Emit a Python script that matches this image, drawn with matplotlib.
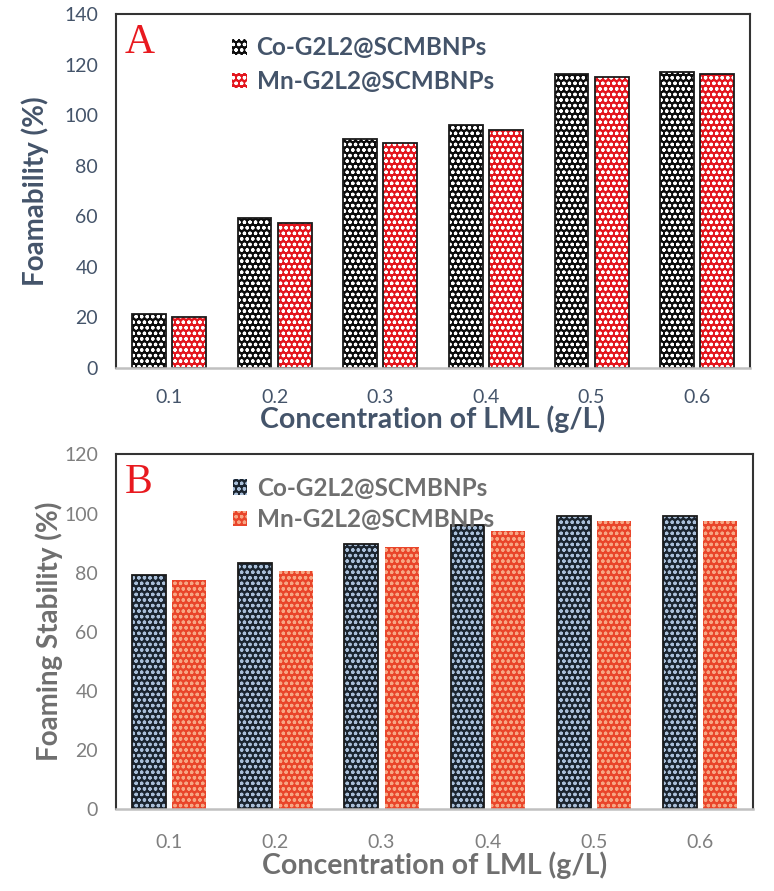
import matplotlib

matplotlib.use("Agg")
import matplotlib.pyplot as plt
import numpy as np
from matplotlib.patches import Patch

plt.rcParams["font.family"] = ["Lato", "DejaVu Sans"]
plt.rcParams["hatch.linewidth"] = 0.9

# data
conc_labels = ["0.1", "0.2", "0.3", "0.4", "0.5", "0.6"]
series_names = ["Co-G2L2@SCMBNPs", "Mn-G2L2@SCMBNPs"]
foamability_co = [21.3, 59.3, 90.5, 96.0, 116.3, 117.2]
foamability_mn = [20.3, 57.5, 89.0, 94.0, 115.0, 116.3]
stability_co = [79.3, 83.2, 89.8, 96.2, 99.0, 99.0]
stability_mn = [77.4, 80.4, 88.6, 94.1, 97.3, 97.3]

x = np.arange(len(conc_labels))
W = 0.32
OFF = 0.19
HATCH = "ooo"

fig = plt.figure(figsize=(7.74, 8.91), dpi=100)
axA = fig.add_axes([0.150, 0.587, 0.819, 0.397])
axB = fig.add_axes([0.150, 0.092, 0.823, 0.398])


def hatched_bars(ax, xs, vals, face, dots, outline):
    ax.bar(xs, vals, W, color=face, edgecolor=dots, hatch=HATCH, linewidth=0)
    if outline:
        ax.bar(xs, vals, W, fill=False, edgecolor="#1a1a1a", linewidth=1.3)


def style_axes(ax, ymax, tick_col, lab_col, ylabel, letter, handles, leg_col, spacing):
    ax.set_xlim(-0.5, len(conc_labels) - 0.5)
    ax.set_ylim(0, ymax)
    ax.set_yticks(np.arange(0, ymax + 1, 20))
    ax.set_xticks(x)
    ax.set_xticklabels(conc_labels)
    ax.tick_params(length=0, labelsize=14, colors=tick_col, pad=13)
    ax.tick_params(axis="x", pad=15)
    for s in ["left", "top", "right"]:
        ax.spines[s].set_color("#333333")
        ax.spines[s].set_linewidth(1.5)
    ax.spines["bottom"].set_color("#c0c0c0")
    ax.spines["bottom"].set_linewidth(1.8)
    ax.set_xlabel("Concentration of LML (g/L)", fontsize=20.5, fontweight="bold",
                  color=lab_col, labelpad=0)
    ax.set_ylabel(ylabel, fontsize=20, fontweight="bold", color=lab_col)
    ax.text(0.014, 0.975, letter, transform=ax.transAxes, va="top", ha="left",
            fontsize=30, color="#e8191f", family="Liberation Serif")
    leg = ax.legend(handles=handles, loc="upper left", bbox_to_anchor=(0.168, 0.965),
                    frameon=False, fontsize=17.5, handlelength=0.6, handleheight=0.6,
                    handletextpad=0.4, labelspacing=spacing, borderaxespad=0)
    for t in leg.get_texts():
        t.set_color(leg_col)
        t.set_fontweight("bold")


# Panel A
hatched_bars(axA, x - OFF, foamability_co, "#0d0d0d", "white", True)
hatched_bars(axA, x + OFF, foamability_mn, "#e3161e", "white", True)
hA = [
    Patch(facecolor="#0d0d0d", edgecolor="white", hatch=HATCH, linewidth=0, label=series_names[0]),
    Patch(facecolor="#e3161e", edgecolor="white", hatch=HATCH, linewidth=0, label=series_names[1]),
]
style_axes(axA, 140, "#44546a", "#44546a", "Foamability (%)", "A", hA, "#44546a", 0.45)
axA.yaxis.set_label_coords(-0.106, 0.5)

# Panel B
hatched_bars(axB, x - OFF, stability_co, "#1b2530", "#a9bfd9", True)
hatched_bars(axB, x + OFF, stability_mn, "#e9452a", "#f7a684", False)
hB = [
    Patch(facecolor="#1b2530", edgecolor="#a9bfd9", hatch=HATCH, linewidth=0, label=series_names[0]),
    Patch(facecolor="#e9452a", edgecolor="#f7a684", hatch=HATCH, linewidth=0, label=series_names[1]),
]
style_axes(axB, 120, "#7f7f7f", "#6f6f6f", "Foaming Stability (%)", "B", hB, "#6f6f6f", 0.35)
axB.yaxis.set_label_coords(-0.084, 0.5)
axB.tick_params(axis="x", pad=18)

fig.savefig("out.png", dpi=100)
